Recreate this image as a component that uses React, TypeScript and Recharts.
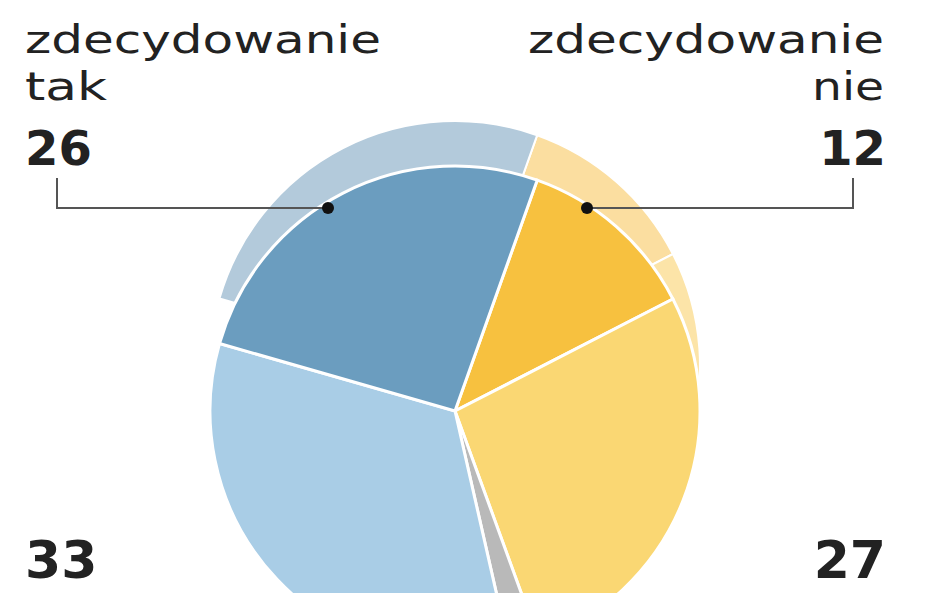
import { Cell, Pie, PieChart } from "recharts";

const labels = ["zdecydowanie nie", "raczej nie", "nie wiem", "raczej tak", "zdecydowanie tak"];
const values = [12, 27, 2, 33, 26];
const frontColors = ["#f7c13f", "#fad773", "#b9b9b9", "#a9cde6", "#6b9dbf"];
const backColors = ["#fbdea0", "#fce4a8", "#ffffff", "#ffffff", "#b3cadb"];

const data = labels.map((name, i) => ({ name, value: values[i] }));

const CX = 455;
const CY = 411;
const R = 245;
const START = 70.4;

const font = "'DejaVu Sans', sans-serif";

export default function App() {
  return (
    <div style={{ position: "absolute", left: 0, top: 0, width: 948, height: 593, background: "#fff", overflow: "hidden" }}>
      <PieChart width={948} height={593} margin={{ top: 0, right: 0, left: 0, bottom: 0 }}>
        <Pie
          data={data}
          dataKey="value"
          cx={CX}
          cy={CY - 45}
          outerRadius={R}
          startAngle={START}
          endAngle={START - 360}
          stroke="#fff"
          strokeWidth={2}
          isAnimationActive={false}
        >
          {data.map((d, i) => (
            <Cell key={d.name} fill={backColors[i]} />
          ))}
        </Pie>
        <Pie
          data={data}
          dataKey="value"
          cx={CX}
          cy={CY}
          outerRadius={R}
          startAngle={START}
          endAngle={START - 360}
          stroke="#fff"
          strokeWidth={3}
          isAnimationActive={false}
        >
          {data.map((d, i) => (
            <Cell key={d.name} fill={frontColors[i]} />
          ))}
        </Pie>
      </PieChart>
      <svg width={948} height={593} style={{ position: "absolute", left: 0, top: 0, pointerEvents: "none" }}>
        <g fontFamily={font} fill="#222">
          <text x={25} y={53} fontSize={39} textLength={356} lengthAdjust="spacingAndGlyphs">zdecydowanie</text>
          <text x={25} y={100} fontSize={39} textLength={82} lengthAdjust="spacingAndGlyphs">tak</text>
          <text x={25} y={165} fontSize={48} fontWeight="bold">{values[4]}</text>
          <text x={884} y={53} fontSize={39} textLength={356} lengthAdjust="spacingAndGlyphs" textAnchor="end">zdecydowanie</text>
          <text x={884} y={100} fontSize={39} textLength={72} lengthAdjust="spacingAndGlyphs" textAnchor="end">nie</text>
          <text x={886} y={165} fontSize={48} fontWeight="bold" textAnchor="end">{values[0]}</text>
          <text x={25} y={578} fontSize={52} fontWeight="bold">{values[3]}</text>
          <text x={886} y={578} fontSize={52} fontWeight="bold" textAnchor="end">{values[1]}</text>
        </g>
        <polyline points="57,178 57,208 328,208" fill="none" stroke="#555" strokeWidth={2} />
        <polyline points="853,178 853,208 587,208" fill="none" stroke="#555" strokeWidth={2} />
        <circle cx={328} cy={208} r={6} fill="#111" />
        <circle cx={587} cy={208} r={6} fill="#111" />
      </svg>
    </div>
  );
}
